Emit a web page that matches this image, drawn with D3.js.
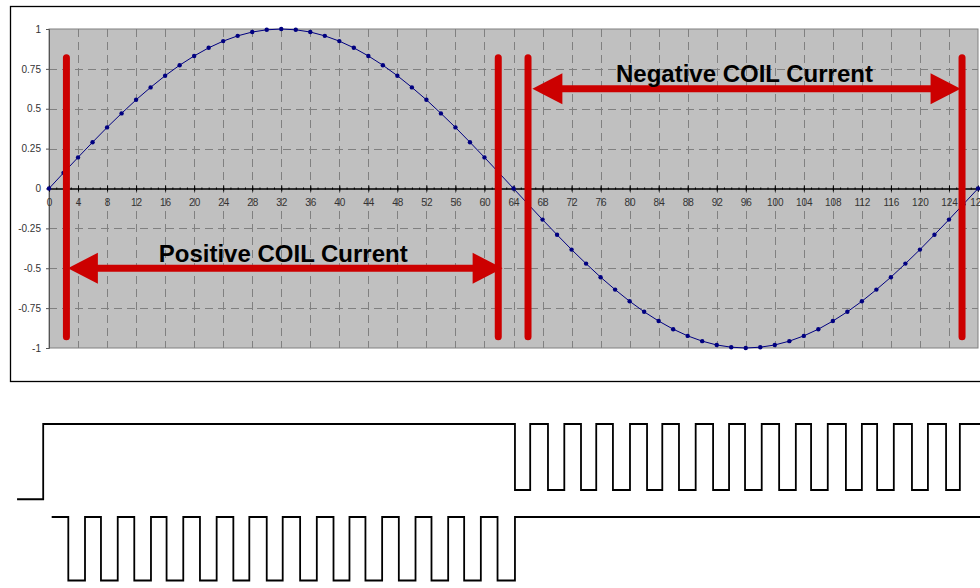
<!DOCTYPE html>
<html>
<head>
<meta charset="utf-8">
<script src="https://cdn.jsdelivr.net/npm/d3@7"></script>
<style>
  body { margin: 0; background: #fff; }
  svg { display: block; font-family: "Liberation Sans", Arial, sans-serif; }
</style>
</head>
<body>
<div id="chart"></div>
<script>
// sample points (x axis) and coil current (y axis)
var samples = [0, 2, 4, 6, 8, 10, 12, 14, 16, 18, 20, 22, 24, 26, 28, 30, 32, 34, 36, 38, 40,
  42, 44, 46, 48, 50, 52, 54, 56, 58, 60, 62, 64, 66, 68, 70, 72, 74, 76, 78, 80, 82, 84,
  86, 88, 90, 92, 94, 96, 98, 100, 102, 104, 106, 108, 110, 112, 114, 116, 118, 120, 122,
  124, 126, 128];
var current = [0, 0.098, 0.195, 0.290, 0.383, 0.471, 0.556, 0.634, 0.707, 0.773, 0.831,
  0.882, 0.924, 0.957, 0.981, 0.995, 1, 0.995, 0.981, 0.957, 0.924, 0.882, 0.831, 0.773,
  0.707, 0.634, 0.556, 0.471, 0.383, 0.290, 0.195, 0.098, 0,
  -0.098, -0.195, -0.290, -0.383, -0.471, -0.556, -0.634, -0.707, -0.773, -0.831, -0.882,
  -0.924, -0.957, -0.981, -0.995, -1, -0.995, -0.981, -0.957, -0.924, -0.882, -0.831,
  -0.773, -0.707, -0.634, -0.556, -0.471, -0.383, -0.290, -0.195, -0.098, 0];

var x_ticks = [0, 4, 8, 12, 16, 20, 24, 28, 32, 36, 40, 44, 48, 52, 56, 60, 64, 68, 72, 76,
  80, 84, 88, 92, 96, 100, 104, 108, 112, 116, 120, 124, 128];
var y_ticks = [1, 0.75, 0.5, 0.25, 0, -0.25, -0.5, -0.75, -1];

// red markers: boundaries of each half wave
var bars_x = [2.4, 61.9, 66, 125.8];
var bars_y = [0.82, -0.93];
var arrow_labels = ['Positive COIL Current', 'Negative COIL Current'];
var arrow_from = [2.6, 66.6];
var arrow_to = [62.5, 125.6];
var arrow_level = [-0.5, 0.625];

// logic traces underneath (edge times on the same time axis)
var trace1_t = [-4.4, -0.8, 64.2, 66.3, 68.75, 71.0, 73.3, 75.4, 77.7, 80.05, 82.4, 84.5,
  86.8, 89.1, 91.5, 93.7, 95.9, 98.2, 100.6, 102.9, 105.0, 107.3, 109.8, 112.0, 114.1,
  116.4, 118.9, 121.1, 123.6, 125.5, 128.3];
var trace1_level = [-0.14, 1, 0, 1, 0, 1, 0, 1, 0, 1, 0, 1, 0, 1, 0, 1, 0, 1, 0, 1, 0, 1,
  0, 1, 0, 1, 0, 1, 0, 1, 1];
var trace2_t = [0.37, 2.66, 4.96, 7.16, 9.47, 11.75, 14.05, 16.2, 18.5, 20.8, 23.1, 25.4,
  27.6, 30.0, 32.2, 34.6, 36.9, 39.2, 41.4, 43.6, 45.9, 48.2, 50.5, 52.7, 55.0, 57.2, 59.5,
  61.8, 64.2, 128.3];
var trace2_level = [1, 0, 1, 0, 1, 0, 1, 0, 1, 0, 1, 0, 1, 0, 1, 0, 1, 0, 1, 0, 1, 0, 1, 0,
  1, 0, 1, 0, 1, 1];

var width = 980, height = 588;
var red = '#cc0000';
var svg = d3.select('#chart').append('svg').attr('width', width).attr('height', height);

var x = d3.scaleLinear().domain([0, 128]).range([49, 978]);
var y = d3.scaleLinear().domain([-1, 1]).range([348, 29]);

// outer chart frame
svg.append('rect').attr('x', 10.5).attr('y', 6.5).attr('width', 990).attr('height', 375)
  .attr('fill', 'none').attr('stroke', '#000').attr('stroke-width', 1.3);

// plot area
svg.append('rect').attr('x', x(0)).attr('y', y(1))
  .attr('width', x(128) - x(0)).attr('height', y(-1) - y(1))
  .attr('fill', '#c0c0c0');

var grid = svg.append('g').attr('stroke', '#808080').attr('stroke-width', 1);
grid.selectAll('line.v').data(x_ticks.filter(function(d){ return d > 0 && d < 128; }))
  .enter().append('line')
  .attr('x1', function(d){ return Math.round(x(d)) + 0.5; })
  .attr('x2', function(d){ return Math.round(x(d)) + 0.5; })
  .attr('y1', y(1)).attr('y2', y(-1))
  .attr('stroke-dasharray', '8,5');
grid.selectAll('line.h').data(y_ticks.filter(function(d){ return d != 0 && Math.abs(d) < 1; }))
  .enter().append('line')
  .attr('x1', x(0)).attr('x2', x(128))
  .attr('y1', function(d){ return Math.round(y(d)) + 0.5; })
  .attr('y2', function(d){ return Math.round(y(d)) + 0.5; })
  .attr('stroke-dasharray', '8,5');

svg.append('rect').attr('x', x(0)).attr('y', y(1))
  .attr('width', x(128) - x(0)).attr('height', y(-1) - y(1))
  .attr('fill', 'none').attr('stroke', '#808080').attr('stroke-width', 1);

// y axis
var y_axis = svg.append('g').attr('transform', 'translate(' + x(0) + ',0)')
  .call(d3.axisLeft(y).tickValues(y_ticks).tickSize(3).tickPadding(5)
    .tickFormat(function(d){ return String(d); }));
y_axis.select('.domain').attr('stroke', '#555');
y_axis.selectAll('.tick line').attr('stroke', '#555');
y_axis.selectAll('text').attr('font-size', 10).attr('fill', '#333')
  .attr('font-family', '"Liberation Sans", Arial, sans-serif');

// x axis across the middle, minor ticks every unit
var minor = svg.append('g').attr('transform', 'translate(0,' + y(0) + ')')
  .call(d3.axisBottom(x).ticks(128).tickSize(1).tickFormat(''));
minor.selectAll('.tick line').attr('y1', -1).attr('stroke', '#000');
var x_axis = svg.append('g').attr('transform', 'translate(0,' + y(0) + ')')
  .call(d3.axisBottom(x).tickValues(x_ticks).tickSize(3).tickPadding(7));
x_axis.select('.domain').attr('stroke', '#000');
x_axis.selectAll('.tick line').attr('y1', -3).attr('stroke', '#000');
x_axis.selectAll('text').attr('font-size', 10).attr('fill', '#333')
  .attr('font-family', '"Liberation Sans", Arial, sans-serif');

// sine series
var pts = samples.map(function(s, i){ return [s, current[i]]; });
svg.append('path').datum(pts)
  .attr('d', d3.line().x(function(d){ return x(d[0]); }).y(function(d){ return y(d[1]); }))
  .attr('fill', 'none').attr('stroke', '#000080').attr('stroke-width', 1);
svg.append('g').selectAll('circle').data(pts).enter().append('circle')
  .attr('cx', function(d){ return x(d[0]); })
  .attr('cy', function(d){ return y(d[1]); })
  .attr('r', 2.2).attr('fill', '#000080');

// red boundary bars
svg.append('g').selectAll('line').data(bars_x).enter().append('line')
  .attr('x1', function(d){ return x(d); }).attr('x2', function(d){ return x(d); })
  .attr('y1', y(bars_y[0])).attr('y2', y(bars_y[1]))
  .attr('stroke', red).attr('stroke-width', 7).attr('stroke-linecap', 'round');

// double headed arrows with labels
var head_len = 30, head_half = 15.5;
arrow_labels.forEach(function(label, i){
  var x0 = x(arrow_from[i]), x1 = x(arrow_to[i]), yy = y(arrow_level[i]);
  var g = svg.append('g');
  g.append('line').attr('x1', x0 + head_len - 2).attr('x2', x1 - head_len + 2)
    .attr('y1', yy).attr('y2', yy).attr('stroke', red).attr('stroke-width', 7);
  g.append('path').attr('fill', red)
    .attr('d', 'M' + x0 + ',' + yy + 'L' + (x0 + head_len) + ',' + (yy - head_half) +
      'L' + (x0 + head_len) + ',' + (yy + head_half) + 'Z');
  g.append('path').attr('fill', red)
    .attr('d', 'M' + x1 + ',' + yy + 'L' + (x1 - head_len) + ',' + (yy - head_half) +
      'L' + (x1 - head_len) + ',' + (yy + head_half) + 'Z');
  g.append('text').attr('x', (x0 + x1) / 2 - 2).attr('y', yy - 6.5)
    .attr('text-anchor', 'middle').attr('font-size', 24).attr('font-weight', 'bold')
    .attr('fill', '#000').text(label);
});

// logic traces
var lvl1 = d3.scaleLinear().domain([0, 1]).range([490, 424]);
var lvl2 = d3.scaleLinear().domain([0, 1]).range([580.5, 517]);
function drawTrace(ts, levels, ys){
  svg.append('path')
    .datum(ts.map(function(t, i){ return [t, levels[i]]; }))
    .attr('d', d3.line().curve(d3.curveStepAfter)
      .x(function(d){ return x(d[0]); }).y(function(d){ return ys(d[1]); }))
    .attr('fill', 'none').attr('stroke', '#000').attr('stroke-width', 1.8);
}
drawTrace(trace1_t, trace1_level, lvl1);
drawTrace(trace2_t, trace2_level, lvl2);
</script>
</body>
</html>
